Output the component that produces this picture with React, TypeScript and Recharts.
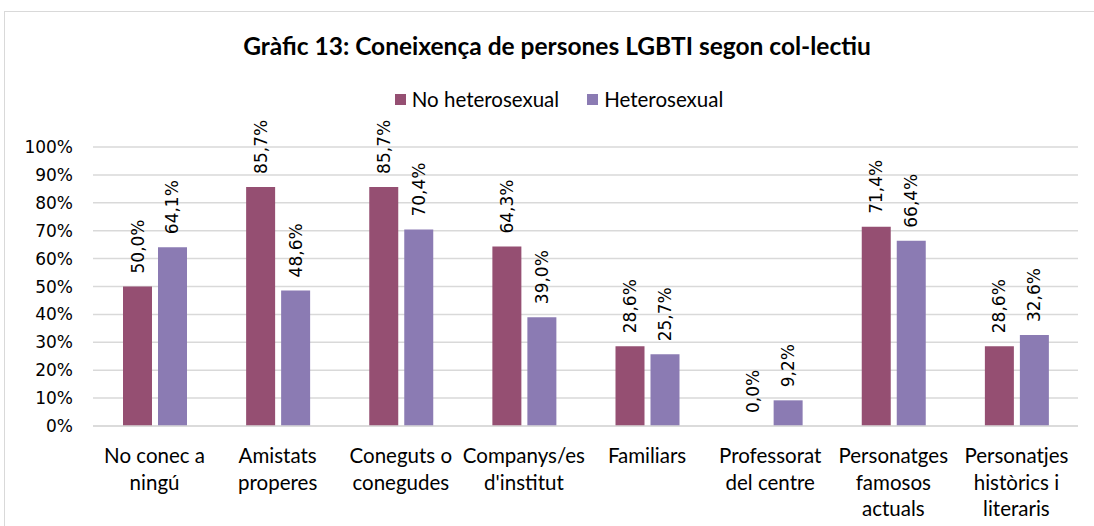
import React from 'react';
import { BarChart, Bar, XAxis, YAxis, CartesianGrid, Legend, LabelList } from 'recharts';

const categories = [
  'No conec a\nningú',
  'Amistats\nproperes',
  'Coneguts o\nconegudes',
  "Companys/es\nd'institut",
  'Familiars',
  'Professorat\ndel centre',
  'Personatges\nfamosos\nactuals',
  'Personatjes\nhistòrics i\nliteraris',
];
const noHetero = [50.0, 85.7, 85.7, 64.3, 28.6, 0.0, 71.4, 28.6];
const hetero = [64.1, 48.6, 70.4, 39.0, 25.7, 9.2, 66.4, 32.6];
const yTicks = [0, 10, 20, 30, 40, 50, 60, 70, 80, 90, 100];
const seriesNames = ['No heterosexual', 'Heterosexual'];
const colors = ['#954F72', '#8B7BB3'];

const data = categories.map((c, i) => ({ cat: c, a: noHetero[i], b: hetero[i] }));

const LBL_FONT = '"DejaVu Sans", sans-serif';
const CAT_FONT = 'Lato, sans-serif';

const fmt = (v: any) => {
  const n = Array.isArray(v) ? Number(v[v.length - 1]) : Number(v);
  return n.toFixed(1).replace('.', ',') + '%';
};

const ValueLabel = (props: any) => {
  const { x, y, width, height, value } = props;
  const top = Math.min(Number(y), Number(y) + Number(height || 0));
  const cx = Number(x) + Number(width) / 2;
  const cy = top - 13;
  return (
    <text
      x={cx}
      y={cy}
      transform={`rotate(-90 ${cx} ${cy})`}
      textAnchor="start"
      dominantBaseline="central"
      fontFamily={LBL_FONT}
      fontSize={17}
      fill="#000"
    >
      {fmt(value)}
    </text>
  );
};

const CatTick = (props: any) => {
  const { x, y, payload } = props;
  const lines = String(payload.value).split('\n');
  return (
    <g>
      {lines.map((l, i) => (
        <text
          key={i}
          x={x}
          y={y + 21 + i * 26.5}
          textAnchor="middle"
          dominantBaseline="central"
          fontFamily={CAT_FONT}
          fontSize={20.5}
          fill="#000"
        >
          {l}
        </text>
      ))}
    </g>
  );
};

const YTick = (props: any) => {
  const { x, y, payload } = props;
  return (
    <text x={x} y={y} textAnchor="end" dominantBaseline="central" fontFamily={LBL_FONT} fontSize={17} fill="#000">
      {payload.value}%
    </text>
  );
};

const LegendContent = () => (
  <div style={{ display: 'flex', justifyContent: 'center', alignItems: 'center', fontFamily: CAT_FONT, fontSize: 20.5, color: '#000' }}>
    {seriesNames.map((n, i) => (
      <div key={n} style={{ display: 'flex', alignItems: 'center', marginLeft: i === 0 ? 0 : 28 }}>
        <span style={{ width: 11, height: 11, background: colors[i], display: 'inline-block', marginRight: 6 }} />
        <span>{n}</span>
      </div>
    ))}
  </div>
);

export default function App() {
  return (
    <div style={{ position: 'absolute', left: 0, top: 0, width: 1094, height: 526, background: '#fff', overflow: 'hidden' }}>
      <div
        style={{
          position: 'absolute',
          left: 4,
          top: 11,
          width: 1200,
          height: 600,
          border: '1.5px solid #D9D9D9',
          boxSizing: 'border-box',
        }}
      />
      <div
        style={{
          position: 'absolute',
          left: 0,
          top: 31,
          width: 1114,
          textAlign: 'center',
          fontFamily: CAT_FONT,
          fontWeight: 'bold',
          fontSize: 24.5,
          color: '#000',
          lineHeight: '30px',
        }}
      >
        Gràfic 13: Coneixença de persones LGBTI segon col-lectiu
      </div>
      <div style={{ position: 'absolute', left: 0, top: 0 }}>
        <BarChart
          width={1094}
          height={526}
          data={data}
          margin={{ top: 147, right: 16, bottom: 10, left: 0 }}
          barCategoryGap={30}
          barGap={6}
        >
          <CartesianGrid vertical={false} stroke="#D9D9D9" strokeWidth={1.5} />
          <XAxis
            dataKey="cat"
            axisLine={{ stroke: '#D9D9D9', strokeWidth: 1.5 }}
            tickLine={false}
            height={90}
            interval={0}
            tick={<CatTick />}
          />
          <YAxis
            domain={[0, 100]}
            ticks={yTicks}
            width={93}
            axisLine={false}
            tickLine={false}
            tickSize={0}
            tickMargin={20}
            tick={<YTick />}
          />
          <Legend
            verticalAlign="middle"
            align="center"
            wrapperStyle={{ top: 87, left: 12, width: 1094 }}
            content={<LegendContent />}
          />
          <Bar dataKey="a" name={seriesNames[0]} fill={colors[0]} minPointSize={0.001} isAnimationActive={false}>
            <LabelList dataKey="a" content={(p: any) => <ValueLabel {...p} />} />
          </Bar>
          <Bar dataKey="b" name={seriesNames[1]} fill={colors[1]} isAnimationActive={false}>
            <LabelList dataKey="b" content={(p: any) => <ValueLabel {...p} />} />
          </Bar>
        </BarChart>
      </div>
    </div>
  );
}
